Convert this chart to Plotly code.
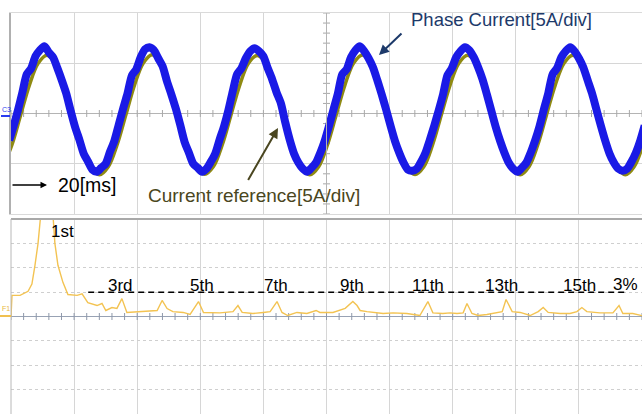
import plotly.graph_objects as go

W, H = 642, 414

# ---------------- data ----------------
# Top panel: time [ms] and current [A] (5 A/div)
REF_TIME_MS = [
    -4.5, 0.5, 5.5, 10.5, 15.5, 20.5, 25.5, 30.5, 35.5, 40.5, 45.5, 50.5,
    55.5, 60.5, 65.5, 70.5, 75.5, 80.5, 85.5, 90.5, 95.5, 100.5, 105.5, 110.5,
    115.5, 120.5, 125.5, 130.5, 135.5, 140.5, 145.5, 150.5, 155.5, 160.5, 165.5, 170.5,
    175.5, 180.5, 185.5, 190.5, 195.5, 200.5, 205.5, 210.5, 215.5, 220.5, 225.5, 230.5,
    235.5, 240.5, 245.5, 250.5, 255.5, 260.5, 265.5, 270.5, 275.5, 280.5, 285.5, 290.5,
    295.5, 300.5, 305.5, 310.5, 315.5, 320.5, 325.5, 330.5, 335.5, 340.5, 345.5, 350.5,
    355.5, 360.5,
]
REF_CURRENT_A = [
    -5.30, -3.13,
    -0.15, 2.83, 5.00, 5.80, 5.00, 2.83, -0.15, -3.13, -5.30, -6.10, -5.30, -3.13,
    -0.15, 2.85, 5.02, 5.85, 5.00, 2.80, -0.15, -3.10, -5.30, -6.05, -5.28, -3.13,
    -0.15, 2.83, 5.00, 5.78, 4.98, 2.83, -0.15, -3.13, -5.32, -6.10, -5.30, -3.13,
    -0.15, 2.83, 5.02, 5.82, 5.00, 2.83, -0.15, -3.13, -5.30, -6.08, -5.30, -3.13,
    -0.15, 2.83, 5.00, 5.80, 5.00, 2.83, -0.15, -3.13, -5.30, -6.10, -5.30, -3.13,
    -0.15, 2.83, 5.00, 5.80, 5.00, 2.83, -0.15, -3.13, -5.30, -6.10, -5.30, -3.13,
]
PHASE_TIME_MS = [
    -1.0, 1.5, 4.0, 6.5, 9.0, 11.5, 14.0, 16.5, 19.0, 21.5, 24.0, 26.5,
    29.0, 31.5, 34.0, 36.5, 39.0, 41.5, 44.0, 46.5, 49.0, 51.5, 54.0, 56.5,
    59.0, 61.5, 64.0, 66.5, 69.0, 71.5, 74.0, 76.5, 79.0, 81.5, 84.0, 86.5,
    89.0, 91.5, 94.0, 96.5, 99.0, 101.5, 104.0, 106.5, 109.0, 111.5, 114.0, 116.5,
    119.0, 121.5, 124.0, 126.5, 129.0, 131.5, 134.0, 136.5, 139.0, 141.5, 144.0, 146.5,
    149.0, 151.5, 154.0, 156.5, 159.0, 161.5, 164.0, 166.5, 169.0, 171.5, 174.0, 176.5,
    179.0, 181.5, 184.0, 186.5, 189.0, 191.5, 194.0, 196.5, 199.0, 201.5, 204.0, 206.5,
    209.0, 211.5, 214.0, 216.5, 219.0, 221.5, 224.0, 226.5, 229.0, 231.5, 234.0, 236.5,
    239.0, 241.5, 244.0, 246.5, 249.0, 251.5, 254.0, 256.5, 259.0, 261.5, 264.0, 266.5,
    269.0, 271.5, 274.0, 276.5, 279.0, 281.5, 284.0, 286.5, 289.0, 291.5, 294.0, 296.5,
    299.0, 301.5, 304.0, 306.5, 309.0, 311.5, 314.0, 316.5, 319.0, 321.5, 324.0, 326.5,
    329.0, 331.5, 334.0, 336.5, 339.0, 341.5, 344.0, 346.5, 349.0, 351.5, 354.0, 356.5,
    359.0, 361.5,
]
PHASE_CURRENT_A = [
    -2.68, -1.22,
    0.35, 2.1, 3.9, 4.5, 5.7, 6.3, 6.7, 6.1, 5.6, 4.5, 3.3, 2.0,
    0.3, -1.3, -2.6, -4.0, -4.8, -5.6, -5.8, -5.4, -5.0, -3.8, -2.7, -1.1,
    0.5, 2.0, 3.8, 4.4, 5.6, 6.4, 6.6, 6.3, 5.5, 4.7, 3.2, 1.9,
    0.5, -1.1, -2.8, -3.9, -5.0, -5.4, -5.8, -5.5, -4.8, -4.0, -2.6, -1.3,
    0.3, 2.2, 3.9, 4.5, 5.5, 6.2, 6.5, 6.2, 5.7, 4.5, 3.4, 2.1,
    1.0, -0.9, -2.6, -4.0, -4.9, -5.5, -5.8, -5.4, -4.9, -3.9, -2.7, -1.2,
    0.4, 2.0, 3.9, 4.4, 5.6, 6.3, 6.7, 6.2, 5.5, 4.6, 3.3, 1.9,
    0.4, -1.2, -2.7, -3.9, -4.9, -5.6, -5.7, -5.5, -4.8, -3.9, -2.6, -1.2,
    0.3, 1.9, 3.8, 4.5, 5.6, 6.2, 6.6, 6.3, 5.6, 4.6, 3.4, 1.9,
    0.3, -1.3, -2.7, -3.9, -4.9, -5.5, -5.8, -5.4, -4.9, -3.9, -2.7, -1.3,
    0.4, 2.0, 3.9, 4.5, 5.6, 6.2, 6.6, 6.2, 5.5, 4.6, 3.3, 2.0,
    0.4, -1.2, -2.7, -4.0, -4.9, -5.5, -5.7, -5.5, -4.8, -3.9, -2.7, -1.2,
]

# Bottom panel: FFT of the phase current, harmonic order vs magnitude [% of fundamental]
HARMONIC_ORDER = [
    0.104, 0.13, 0.16, 0.34, 0.55, 0.65, 0.73, 0.81, 0.88, 1.0, 1.20, 1.25,
    1.33, 1.46, 1.59, 1.83, 1.96, 2.11, 2.35, 2.48, 2.58, 2.74, 2.87, 3.0,
    3.13, 3.29, 3.66, 3.92, 4.05, 4.18, 4.33, 4.60, 4.78, 5.0, 5.13, 5.34,
    5.56, 5.90, 6.03, 6.14, 6.42, 6.69, 6.87, 7.05, 7.18, 7.33, 7.57, 7.83,
    8.07, 8.17, 8.51, 8.83, 9.03, 9.14, 9.22, 9.40, 9.66, 9.82, 10.08, 10.44,
    10.78, 10.99, 11.12, 11.38, 11.57, 11.75, 11.91, 12.01, 12.14, 12.30, 12.53, 12.79,
    12.93, 13.03, 13.19, 13.40, 13.66, 13.87, 14.00, 14.13, 14.44, 14.70, 14.88, 15.01,
    15.14, 15.48, 15.82, 15.98, 16.08, 16.34, 16.47, 16.58,
]
MAGNITUDE_PCT = [
    0.0, 2.6, 2.6, 2.6, 3.1, 4.0, 6.3, 9.0, 12.5, 100.0, 12.5, 9.0,
    6.3, 4.2, 2.7, 2.6, 2.8, 1.7, 1.35, 1.6, 0.74, 1.1, 1.0, 2.2,
    0.5, 0.55, 0.6, 0.74, 1.97, 0.98, 0.6, 0.5, 0.25, 1.84, 0.5, 0.45,
    0.45, 0.6, 1.35, 0.5, 0.37, 0.5, 0.6, 1.84, 0.5, 0.12, 0.5, 0.37,
    0.74, 0.5, 0.5, 1.0, 1.84, 1.35, 0.74, 0.6, 0.5, 0.37, 0.45, 0.37,
    0.12, 1.84, 0.45, 0.37, 0.45, 0.37, 0.45, 1.6, 0.37, 0.12, 0.25, 0.45,
    0.6, 2.1, 0.6, 0.5, 0.12, 0.6, 1.1, 0.5, 0.37, 0.37, 0.6, 1.1,
    0.6, 0.45, 0.45, 1.35, 0.37, 0.37, 0.25, 0.1,
]
LABEL_ORDERS = [2.95, 5.09, 7.02, 9.0, 10.99, 12.92, 14.96]
LABEL_TEXTS = ["3rd", "5th", "7th", "9th", "11th", "13th", "15th"]
THRESHOLD_PCT = 3
THRESHOLD_RANGE = [2.12, 16.14]

assert len(REF_TIME_MS) == len(REF_CURRENT_A)
assert len(PHASE_TIME_MS) == len(PHASE_CURRENT_A)
assert len(HARMONIC_ORDER) == len(MAGNITUDE_PCT)

# ---------------- layout helpers ----------------
def px(x):
    return x / W

def py(y):
    return 1 - y / H

FONT = "Arial, Liberation Sans, Helvetica, sans-serif"
GRID = "#d6d6d6"
X0 = px(11)
TOP_DOM = [py(214), py(13)]
BOT_DOM = [0.0, py(219)]
T_RANGE = [0, 360]
T_DIV = 36
H_RANGE = [0.104, 16.58]
H_DIV = (H_RANGE[1] - H_RANGE[0]) / 10

fig = go.Figure()

# minor tick marks along the centre lines (scope graticule)
tick_t = [T_DIV / 5 * k for k in range(51)]
fig.add_trace(go.Scatter(x=tick_t, y=[0] * len(tick_t), mode="markers", xaxis="x", yaxis="y",
                         marker=dict(symbol="line-ns", size=5, line=dict(width=1, color="#a8a8a8")),
                         hoverinfo="skip"))
tick_a = [k for k in range(-10, 11)]
fig.add_trace(go.Scatter(x=[180] * len(tick_a), y=tick_a, mode="markers", xaxis="x", yaxis="y",
                         marker=dict(symbol="line-ew", size=5, line=dict(width=1, color="#a8a8a8")),
                         hoverinfo="skip"))
tick_h = [H_RANGE[0] + H_DIV / 5 * k for k in range(51)]
fig.add_trace(go.Scatter(x=tick_h, y=[0] * len(tick_h), mode="markers", xaxis="x2", yaxis="y2",
                         marker=dict(symbol="line-ns", size=5, line=dict(width=1, color="#8e98aa")),
                         hoverinfo="skip"))

# waveforms
fig.add_trace(go.Scatter(x=REF_TIME_MS, y=REF_CURRENT_A, mode="lines", xaxis="x", yaxis="y",
                         line=dict(color="#8f8a12", width=3.5, shape="spline"), hoverinfo="skip"))
fig.add_trace(go.Scatter(x=PHASE_TIME_MS, y=PHASE_CURRENT_A, mode="lines", xaxis="x", yaxis="y",
                         line=dict(color="#1a1ae6", width=8, shape="spline", smoothing=0.7),
                         hoverinfo="skip"))

# spectrum
fig.add_trace(go.Scatter(x=THRESHOLD_RANGE, y=[THRESHOLD_PCT] * 2, mode="lines", xaxis="x2", yaxis="y2",
                         line=dict(color="black", width=1.5, dash="6px,4px"), hoverinfo="skip"))
fig.add_trace(go.Scatter(x=HARMONIC_ORDER, y=MAGNITUDE_PCT, mode="lines", xaxis="x2", yaxis="y2",
                         line=dict(color="#f3c352", width=1.4), hoverinfo="skip"))

ann = []
for h, t in zip(LABEL_ORDERS, LABEL_TEXTS):
    ann.append(dict(x=h, y=THRESHOLD_PCT, xref="x2", yref="y2", text=t, showarrow=False,
                    xanchor="center", yanchor="bottom", yshift=-5,
                    font=dict(family=FONT, size=17, color="black")))
ann.append(dict(x=16.14, y=THRESHOLD_PCT, xref="x2", yref="y2", text="3%", showarrow=False,
                xanchor="center", yanchor="bottom", yshift=-4,
                font=dict(family=FONT, size=17, color="black")))
ann.append(dict(x=1.46, y=9.6, xref="x2", yref="y2", text="1st", showarrow=False,
                xanchor="center", yanchor="bottom", yshift=-4,
                font=dict(family=FONT, size=17, color="black")))

# top panel texts and arrows
ann.append(dict(x=px(409), y=py(20), xref="paper", yref="paper", text="Phase Current[5A/div]",
                showarrow=False, xanchor="left", yanchor="middle",
                font=dict(family=FONT, size=18.5, color="#1d3a6a")))
ann.append(dict(x=px(379), y=py(55), xref="paper", yref="paper", text=" ", font=dict(size=1),
                showarrow=True, ax=24, ay=-23, arrowhead=2, arrowsize=1, arrowwidth=2,
                arrowcolor="#1d3a6a"))
ann.append(dict(x=px(146), y=py(195), xref="paper", yref="paper", text="Current reference[5A/div]",
                showarrow=False, xanchor="left", yanchor="middle",
                font=dict(family=FONT, size=19, color="#4a4620")))
ann.append(dict(x=px(278), y=py(128), xref="paper", yref="paper", text=" ", font=dict(size=1),
                showarrow=True, ax=-31, ay=54, arrowhead=2, arrowsize=1, arrowwidth=2,
                arrowcolor="#4a4620"))
ann.append(dict(x=px(56), y=py(185), xref="paper", yref="paper", text="20[ms]",
                showarrow=False, xanchor="left", yanchor="middle",
                font=dict(family=FONT, size=19.5, color="black")))
ann.append(dict(x=px(47), y=py(185), xref="paper", yref="paper", text=" ", font=dict(size=1),
                showarrow=True, ax=-36, ay=0, arrowhead=2, arrowsize=1, arrowwidth=1.3,
                arrowcolor="black"))
# channel markers
ann.append(dict(x=px(0), y=py(109), xref="paper", yref="paper", text="C3", showarrow=False,
                xanchor="left", yanchor="middle", font=dict(family=FONT, size=7, color="#2a3cf0")))
ann.append(dict(x=px(0), y=py(308), xref="paper", yref="paper", text="F1", showarrow=False,
                xanchor="left", yanchor="middle", font=dict(family=FONT, size=7, color="#e8b840")))

shapes = [
    dict(type="line", xref="x", yref="y", x0=180, x1=180, y0=-10, y1=10,
         line=dict(color="#b4b4b4", width=1)),
    dict(type="line", xref="paper", yref="paper", x0=X0, x1=1, y0=py(219), y1=py(219),
         line=dict(color="#a9a9a9", width=2)),
    dict(type="line", xref="paper", yref="paper", x0=X0, x1=X0, y0=0, y1=py(219),
         line=dict(color="#b8b8b8", width=1)),
    dict(type="line", xref="paper", yref="paper", x0=px(1), x1=px(10), y0=py(116), y1=py(116),
         line=dict(color="#2a3cf0", width=2)),
    dict(type="line", xref="paper", yref="paper", x0=px(0), x1=px(11), y0=py(316), y1=py(316),
         line=dict(color="#f0c050", width=2)),
]

fig.update_layout(
    width=W, height=H, margin=dict(l=0, r=0, t=0, b=0),
    paper_bgcolor="white", plot_bgcolor="white", showlegend=False, hovermode=False,
    annotations=ann, shapes=shapes,
    xaxis=dict(domain=[X0, 1], range=T_RANGE, tick0=0, dtick=T_DIV, showgrid=True, gridcolor=GRID,
               showticklabels=False, ticks="", zeroline=False, showline=True, mirror=True,
               linecolor="#dadada", linewidth=1, anchor="y"),
    yaxis=dict(domain=TOP_DOM, range=[-10, 10], dtick=5, showgrid=True, gridcolor=GRID,
               showticklabels=False, ticks="", zeroline=True, zerolinecolor="#b4b4b4", zerolinewidth=1,
               showline=True, linecolor="#b0b0b0", linewidth=1.5, anchor="x"),
    xaxis2=dict(domain=[X0, 1], range=H_RANGE, tick0=H_RANGE[0], dtick=H_DIV, showgrid=True,
                gridcolor=GRID, showticklabels=False, ticks="", zeroline=False, anchor="y2"),
    yaxis2=dict(domain=BOT_DOM, range=[-12, 12], dtick=3, showgrid=True, gridcolor="#cfcfcf",
                griddash="dot", showticklabels=False, ticks="", zeroline=True,
                zerolinecolor="#98a2b4", zerolinewidth=1, anchor="x2"),
)

fig.write_html("out.html")
